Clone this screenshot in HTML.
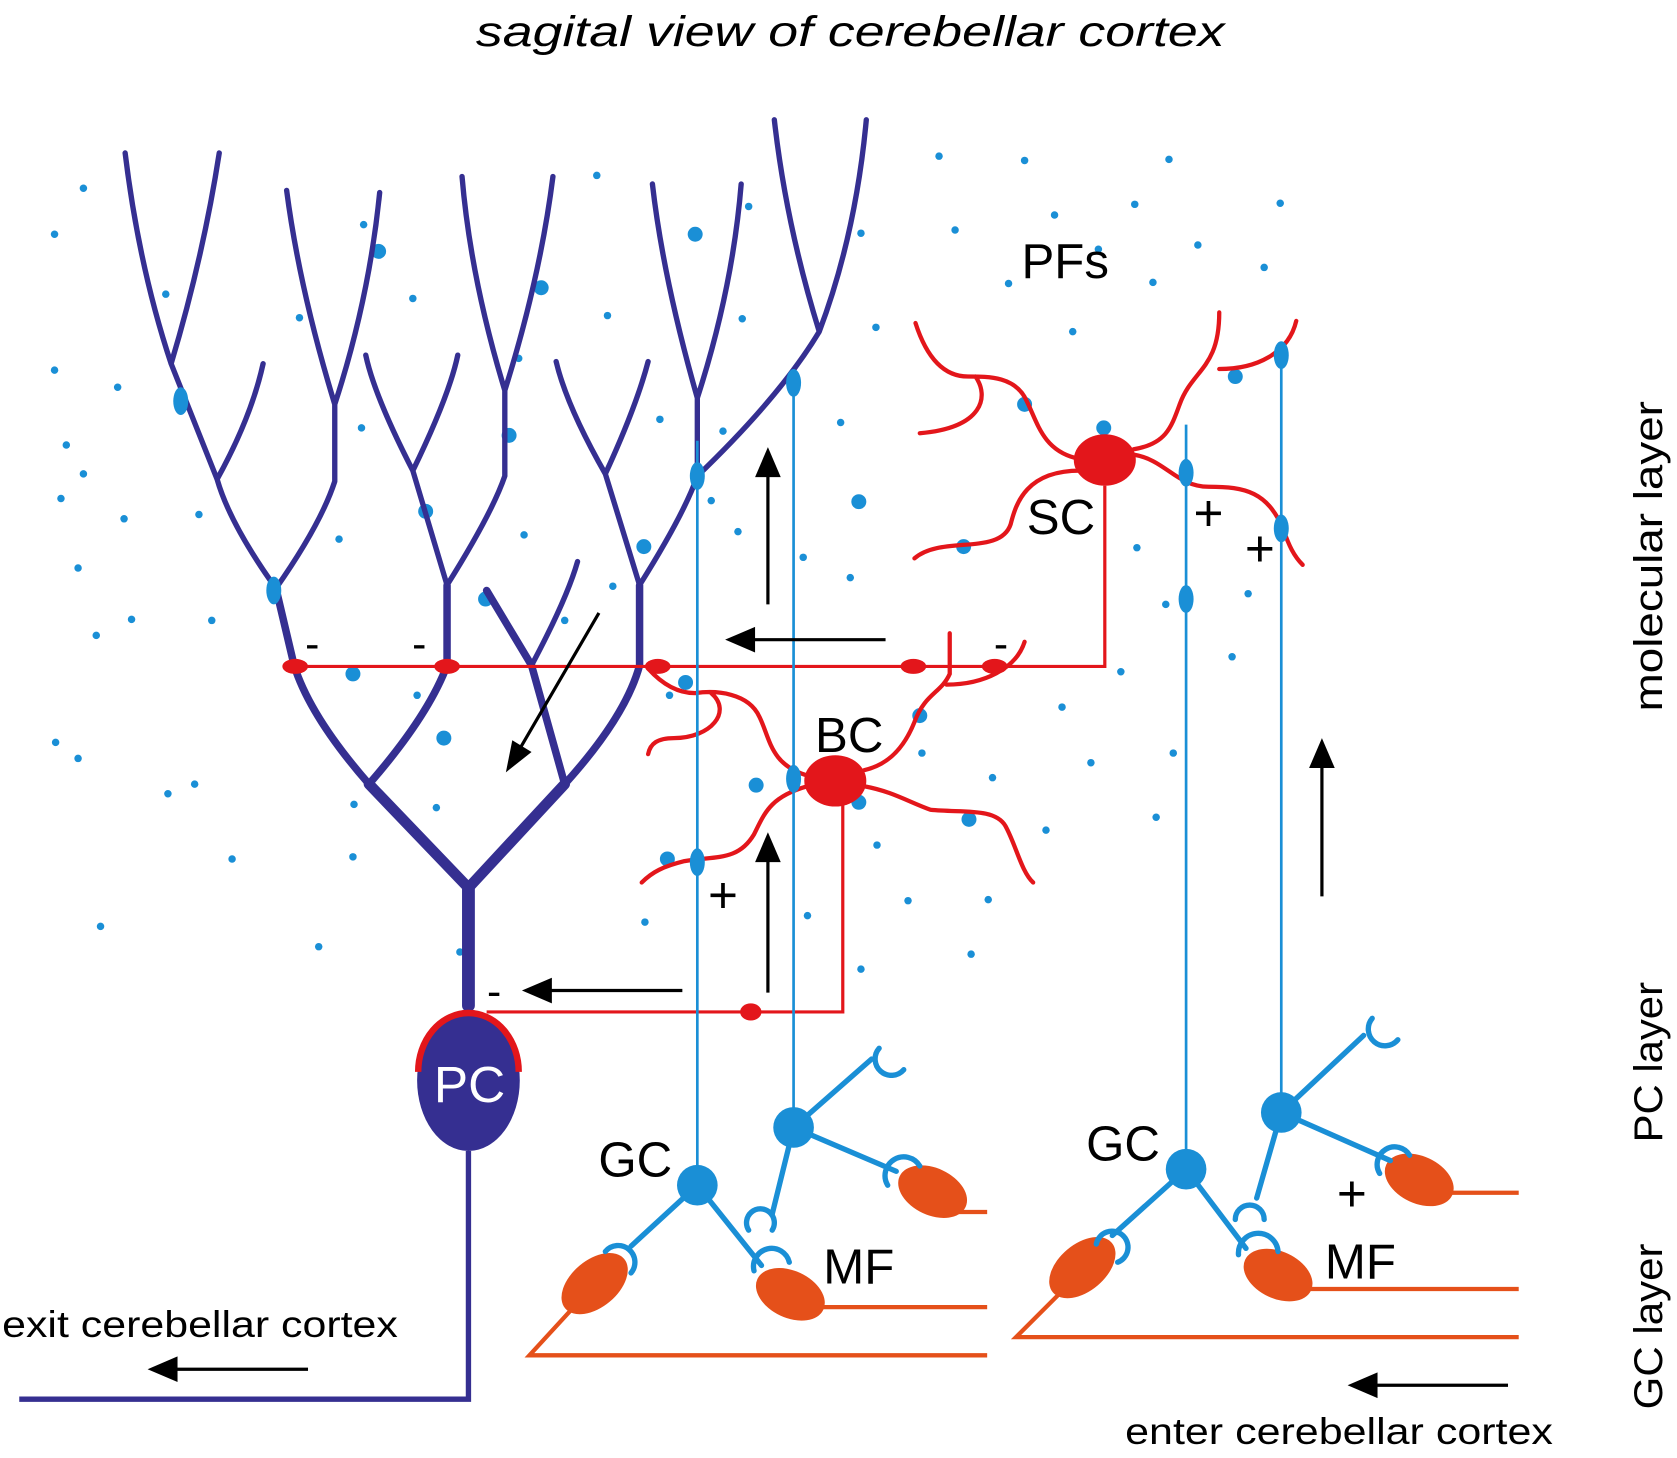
<!DOCTYPE html>
<html><head><style>html,body{margin:0;padding:0;background:#fff}svg{display:block}</style></head><body>
<svg width="1677" height="1458" viewBox="0 0 1568 1363" preserveAspectRatio="none" xmlns="http://www.w3.org/2000/svg" font-family="Liberation Sans, sans-serif">
<rect width="1568" height="1363" fill="#fff"/>
<text x="795" y="43" font-size="40" font-style="italic" text-anchor="middle" textLength="700" lengthAdjust="spacingAndGlyphs">sagital view of cerebellar cortex</text>
<g fill="#1a8fd6">
<circle cx="78" cy="176" r="3.5"/><circle cx="51" cy="219" r="3.5"/><circle cx="51" cy="346" r="3.5"/><circle cx="110" cy="362" r="3.5"/><circle cx="62" cy="416" r="3.5"/><circle cx="78" cy="443" r="3.5"/><circle cx="57" cy="466" r="3.5"/><circle cx="116" cy="485" r="3.5"/><circle cx="186" cy="481" r="3.5"/><circle cx="73" cy="531" r="3.5"/><circle cx="123" cy="579" r="3.5"/><circle cx="90" cy="594" r="3.5"/><circle cx="198" cy="580" r="3.5"/><circle cx="52" cy="694" r="3.5"/><circle cx="73" cy="709" r="3.5"/><circle cx="157" cy="742" r="3.5"/><circle cx="182" cy="733" r="3.5"/><circle cx="217" cy="803" r="3.5"/><circle cx="94" cy="866" r="3.5"/><circle cx="298" cy="885" r="3.5"/><circle cx="330" cy="801" r="3.5"/><circle cx="331" cy="752" r="3.5"/><circle cx="155" cy="275" r="3.5"/><circle cx="280" cy="297" r="3.5"/><circle cx="340" cy="210" r="3.5"/><circle cx="386" cy="279" r="3.5"/><circle cx="338" cy="400" r="3.5"/><circle cx="317" cy="504" r="3.5"/><circle cx="490" cy="500" r="3.5"/><circle cx="485" cy="335" r="3.5"/><circle cx="568" cy="295" r="3.5"/><circle cx="558" cy="164" r="3.5"/><circle cx="617" cy="392" r="3.5"/><circle cx="665" cy="468" r="3.5"/><circle cx="690" cy="497" r="3.5"/><circle cx="694" cy="298" r="3.5"/><circle cx="676" cy="403" r="3.5"/><circle cx="573" cy="548" r="3.5"/><circle cx="390" cy="650" r="3.5"/><circle cx="408" cy="755" r="3.5"/><circle cx="430" cy="890" r="3.5"/><circle cx="751" cy="521" r="3.5"/><circle cx="786" cy="395" r="3.5"/><circle cx="795" cy="540" r="3.5"/><circle cx="805" cy="218" r="3.5"/><circle cx="819" cy="306" r="3.5"/><circle cx="878" cy="146" r="3.5"/><circle cx="958" cy="150" r="3.5"/><circle cx="1093" cy="149" r="3.5"/><circle cx="893" cy="215" r="3.5"/><circle cx="986" cy="201" r="3.5"/><circle cx="1027" cy="233" r="3.5"/><circle cx="1061" cy="191" r="3.5"/><circle cx="1120" cy="229" r="3.5"/><circle cx="1197" cy="190" r="3.5"/><circle cx="1182" cy="250" r="3.5"/><circle cx="1078" cy="264" r="3.5"/><circle cx="943" cy="265" r="3.5"/><circle cx="1003" cy="310" r="3.5"/><circle cx="1063" cy="512" r="3.5"/><circle cx="1167" cy="555" r="3.5"/><circle cx="1152" cy="614" r="3.5"/><circle cx="1048" cy="628" r="3.5"/><circle cx="1090" cy="565" r="3.5"/><circle cx="993" cy="661" r="3.5"/><circle cx="1020" cy="713" r="3.5"/><circle cx="1097" cy="704" r="3.5"/><circle cx="1081" cy="764" r="3.5"/><circle cx="978" cy="776" r="3.5"/><circle cx="928" cy="727" r="3.5"/><circle cx="862" cy="704" r="3.5"/><circle cx="820" cy="790" r="3.5"/><circle cx="849" cy="842" r="3.5"/><circle cx="924" cy="841" r="3.5"/><circle cx="908" cy="892" r="3.5"/><circle cx="805" cy="906" r="3.5"/><circle cx="755" cy="856" r="3.5"/><circle cx="603" cy="862" r="3.5"/><circle cx="626" cy="650" r="3.5"/><circle cx="528" cy="580" r="3.5"/><circle cx="700" cy="193" r="3.5"/>
<circle cx="354" cy="235" r="7"/><circle cx="506" cy="269" r="7"/><circle cx="650" cy="219" r="7"/><circle cx="476" cy="407" r="7"/><circle cx="398" cy="478" r="7"/><circle cx="602" cy="511" r="7"/><circle cx="803" cy="469" r="7"/><circle cx="454" cy="560" r="7"/><circle cx="330" cy="630" r="7"/><circle cx="415" cy="690" r="7"/><circle cx="641" cy="638" r="7"/>
<circle cx="958" cy="378" r="7"/><circle cx="901" cy="511" r="7"/><circle cx="1032" cy="400" r="7"/><circle cx="1155" cy="352" r="7"/><circle cx="860" cy="669" r="7"/><circle cx="906" cy="766" r="7"/><circle cx="803" cy="750" r="7"/><circle cx="707" cy="734" r="7"/><circle cx="624" cy="803" r="7"/>
</g>
<g fill="none" stroke="#352f91" stroke-linecap="round" stroke-linejoin="round">
<path d="M438,940 L438,830" stroke-width="12"/>
<path d="M438,830 L345,733 M438,830 L528,733" stroke-width="10"/>
<path d="M345,733 Q290,670 275,622 L258,550 M345,733 Q400,670 418,622 L418,547 M528,733 L497,622 L455,552 M528,733 Q585,670 598,622 L598,547" stroke-width="7"/>
<path d="M258,550 Q215,490 203,448 L160,340 Q130,250 117,143 M160,340 Q190,240 205,143 M203,448 Q235,390 246,340
M258,550 Q300,490 313,450 L313,378 Q280,270 268,178 M313,378 Q345,280 355,180
M418,547 L386,440 Q350,370 342,332 M386,440 Q420,370 428,332
M418,547 Q460,480 472,445 L472,365 Q440,260 432,165 M472,365 Q505,260 517,165
M497,622 Q530,560 540,525
M598,547 L566,443 Q530,380 520,338 M566,443 Q595,380 606,338
M598,547 Q640,480 652,445 L652,372 Q620,260 610,172 M652,372 Q685,270 693,172
M652,445 Q730,370 766,310 Q735,210 724,112 M766,310 Q800,220 810,112" stroke-width="5"/>
</g>
<ellipse cx="438" cy="1010" rx="48" ry="66" fill="#352f91"/>
<path d="M391,1002 A47,55 0 0 1 485,1002" fill="none" stroke="#e3161b" stroke-width="6"/>
<text x="439" y="1030" font-size="48" fill="#fff" text-anchor="middle">PC</text>
<path d="M438,1076 L438,1308 L18,1308" fill="none" stroke="#352f91" stroke-width="5"/>
<g fill="none" stroke="#e3161b" stroke-width="4" stroke-linecap="round">
<path d="M1005,428 C975,420 970,395 960,375 C950,352 925,352 905,352 C880,352 865,330 856,302 M912,352 C925,370 920,400 860,405"/>
<path d="M1010,440 C960,440 950,470 945,490 C935,520 880,500 855,522"/>
<path d="M1060,420 C1090,415 1095,400 1103,378 C1115,345 1140,345 1140,292 M1140,345 C1175,345 1205,330 1212,300"/>
<path d="M1060,425 C1090,430 1100,455 1130,455 C1165,455 1185,460 1200,495 C1205,510 1210,520 1218,528"/>
<path d="M755,725 C720,715 720,690 710,670 C700,648 670,645 650,648 C630,648 615,635 606,625 M665,648 C685,665 665,690 630,690 C615,690 608,695 606,705"/>
<path d="M755,735 C720,745 715,760 705,780 C690,805 670,800 640,805 C620,810 610,815 600,825"/>
<path d="M808,720 C830,715 845,700 855,675 C865,648 880,648 888,630 L888,592 M885,640 C920,640 950,625 958,600"/>
<path d="M808,735 C835,740 850,750 870,757 C900,760 930,755 940,772 C950,790 955,815 966,825"/>
</g>
<g fill="none" stroke="#e3161b" stroke-width="3">
<path d="M1033,454 L1033,623 L270,623"/>
<path d="M788,748 L788,946 L455,946"/>
</g>
<g fill="#e3161b">
<ellipse cx="1033" cy="430" rx="29" ry="24"/><ellipse cx="781" cy="730" rx="29" ry="24"/>
<ellipse cx="276" cy="623" rx="12" ry="7"/><ellipse cx="418" cy="623" rx="12" ry="7"/><ellipse cx="615" cy="623" rx="12" ry="7"/><ellipse cx="854" cy="623" rx="12" ry="7"/><ellipse cx="930" cy="623" rx="12" ry="7"/><ellipse cx="702" cy="946" rx="10" ry="8"/>
</g>
<g fill="none" stroke="#e5501a" stroke-width="4">
<path d="M540,1218 L495,1267 L923,1267 M765,1222 L923,1222 M895,1133 L923,1133"/>
<path d="M995,1205 L950,1250 L1420,1250 M1220,1205 L1420,1205 M1350,1115 L1420,1115"/>
</g>
<g fill="#e5501a">
<ellipse cx="556" cy="1200" rx="36" ry="22" transform="rotate(-40 556 1200)"/>
<ellipse cx="739" cy="1210" rx="34" ry="22" transform="rotate(25 739 1210)"/>
<ellipse cx="872" cy="1114" rx="34" ry="22" transform="rotate(25 872 1114)"/>
<ellipse cx="1012" cy="1185" rx="36" ry="22" transform="rotate(-40 1012 1185)"/>
<ellipse cx="1195" cy="1192" rx="34" ry="22" transform="rotate(25 1195 1192)"/>
<ellipse cx="1327" cy="1103" rx="34" ry="22" transform="rotate(25 1327 1103)"/>
</g>
<g fill="none" stroke="#1a8fd6" stroke-width="2.5">
<path d="M652,412 L652,1108 M742,355 L742,1055 M1109,397 L1109,1093 M1198,320 L1198,1040"/>
</g>
<g fill="none" stroke="#1a8fd6" stroke-width="5" stroke-linecap="round">
<path d="M652,1108 L590,1165 M652,1108 L712,1183 M742,1054 L815,990 M742,1054 L838,1095 M742,1054 L722,1135"/>
<path d="M1109,1093 L1040,1155 M1109,1093 L1165,1167 M1198,1040 L1275,968 M1198,1040 L1300,1085 M1198,1040 L1175,1120"/>
<path d="M566,1170 A15,15 0 1 1 590,1190"/>
<path d="M705,1188 A14,14 0 0 1 738,1180"/>
<path d="M830,1108 A14,14 0 0 1 860,1090"/>
<path d="M700,1150 A13,13 0 1 1 722,1150"/>
<path d="M822,980 A14,14 0 1 0 845,1000"/>
<path d="M1025,1163 A15,15 0 1 1 1045,1180"/>
<path d="M1158,1173 A14,14 0 0 1 1195,1170"/>
<path d="M1290,1097 A14,14 0 0 1 1318,1080"/>
<path d="M1155,1140 A13,13 0 1 1 1182,1140"/>
<path d="M1283,952 A14,14 0 1 0 1307,972"/>
</g>
<g fill="#1a8fd6">
<circle cx="652" cy="1108" r="19"/><circle cx="742" cy="1054" r="19"/><circle cx="1109" cy="1093" r="19"/><circle cx="1198" cy="1040" r="19"/>
<ellipse cx="169" cy="375" rx="7" ry="13"/><ellipse cx="256" cy="552" rx="7" ry="13"/><ellipse cx="652" cy="445" rx="7" ry="13"/><ellipse cx="742" cy="358" rx="7" ry="13"/><ellipse cx="742" cy="728" rx="7" ry="13"/><ellipse cx="652" cy="806" rx="7" ry="13"/><ellipse cx="1109" cy="442" rx="7" ry="13"/><ellipse cx="1109" cy="560" rx="7" ry="13"/><ellipse cx="1198" cy="332" rx="7" ry="13"/><ellipse cx="1198" cy="494" rx="7" ry="13"/>
</g>
<g stroke="#000" stroke-width="3">
<path d="M718,565 L718,440 M828,598 L700,598 M560,573 L486,700 M638,926 L510,926 M718,928 L718,800 M1236,838 L1236,712 M288,1280 L160,1280 M1410,1295 L1282,1295"/>
</g>
<g fill="#000">
<path d="M718,418 L706,446 L730,446Z"/><path d="M678,598 L706,586 L706,610Z"/><path d="M473,722 L479,692 L497,703Z"/><path d="M488,926 L516,914 L516,938Z"/><path d="M718,778 L706,806 L730,806Z"/><path d="M1236,690 L1224,718 L1248,718Z"/><path d="M138,1280 L166,1268 L166,1292Z"/><path d="M1260,1295 L1288,1283 L1288,1307Z"/>
</g>
<g font-size="46" fill="#000" text-anchor="middle">
<text x="996" y="260">PFs</text><text x="992" y="499">SC</text><text x="794" y="703">BC</text><text x="594" y="1100">GC</text><text x="1050" y="1085">GC</text><text x="803" y="1200">MF</text><text x="1272" y="1195">MF</text>
</g>
<g font-size="40" fill="#000" text-anchor="middle">
<text x="292" y="615">-</text><text x="392" y="615">-</text><text x="936" y="615">-</text><text x="462" y="940">-</text>
</g>
<g font-size="48" fill="#000" text-anchor="middle" font-weight="300">
<text x="676" y="853">+</text><text x="1130" y="496">+</text><text x="1178" y="529">+</text><text x="1264" y="1132">+</text>
</g>
<g font-size="35" fill="#000">
<text x="2" y="1250" textLength="370" lengthAdjust="spacingAndGlyphs">exit cerebellar cortex</text>
<text x="1052" y="1350" textLength="400" lengthAdjust="spacingAndGlyphs">enter cerebellar cortex</text>
</g>
<g font-size="37" fill="#000" text-anchor="middle">
<text transform="translate(1554,520) rotate(-90)" textLength="290" lengthAdjust="spacingAndGlyphs">molecular layer</text>
<text transform="translate(1554,993) rotate(-90)" textLength="150" lengthAdjust="spacingAndGlyphs">PC layer</text>
<text transform="translate(1554,1240) rotate(-90)" textLength="155" lengthAdjust="spacingAndGlyphs">GC layer</text>
</g>
</svg>
</body></html>
